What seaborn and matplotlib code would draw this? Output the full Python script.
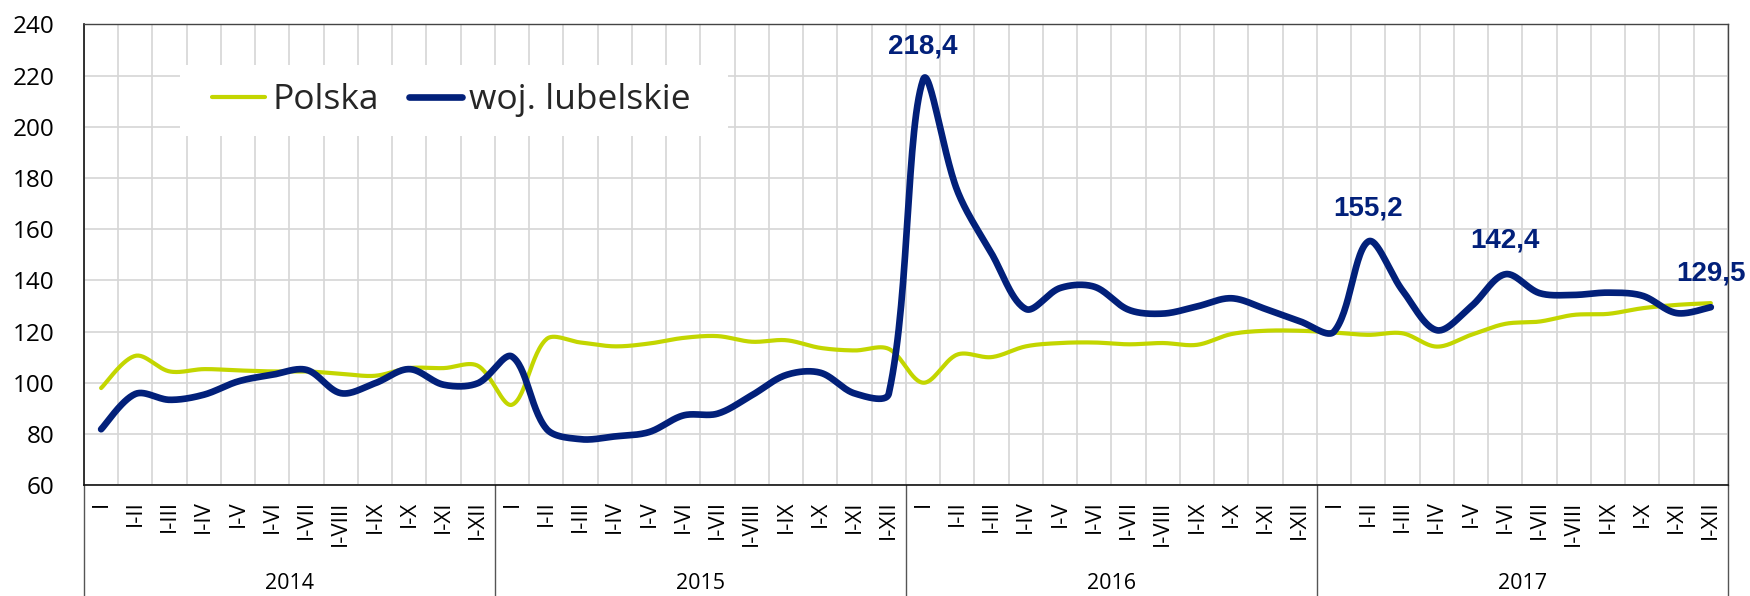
import numpy as np
import matplotlib
matplotlib.use('Agg')
import matplotlib.pyplot as plt
import matplotlib.patches as patches
import seaborn as sns

months = ['I', 'I-II', 'I-III', 'I-IV', 'I-V', 'I-VI', 'I-VII', 'I-VIII',
          'I-IX', 'I-X', 'I-XI', 'I-XII']
years = ['2014', '2015', '2016', '2017']

polska = [97.9, 110.5, 104.4, 105.3, 104.8, 104.4, 104.4, 103.5, 102.7, 105.7, 105.7, 106.6,
          91.4, 117.0, 115.7, 114.2, 115.3, 117.5, 118.2, 116.0, 116.6, 113.6, 112.6, 113.2,
          100.0, 111.0, 110.0, 114.2, 115.5, 115.7, 115.0, 115.5, 114.8, 119.0, 120.3, 120.3,
          119.6, 118.7, 119.3, 114.1, 118.7, 123.0, 123.9, 126.5, 126.9, 129.1, 130.4, 131.1]

lubelskie = [81.8, 95.6, 93.3, 95.3, 100.5, 103.1, 105.0, 95.9, 99.8, 105.3, 99.2, 99.8,
             110.2, 82.0, 77.9, 79.0, 80.7, 87.2, 87.9, 95.1, 103.0, 103.9, 95.8, 95.8,
             218.4, 175.0, 150.5, 128.8, 137.0, 137.5, 128.5, 127.0, 129.8, 133.0, 128.8, 124.0,
             120.0, 155.2, 136.0, 120.5, 129.8, 142.4, 135.0, 134.3, 135.2, 134.0, 127.2, 129.5]

# points of woj. lubelskie that get a value label
labelled = [24, 37, 41, 47]

GREEN = '#c3d600'
NAVY = '#02207a'


def smooth(values, steps=30, yscale=0.0746):
    # excel-like smoothed line: bezier segments, handles weighted by chord length
    # (yscale = pixel height of one y unit / pixel width of one category)
    y = np.asarray(values, dtype=float)
    n = len(y)
    P = np.column_stack([np.arange(n, dtype=float), y])
    S = P * [1.0, yscale]
    d = np.hypot(*np.diff(S, axis=0).T)
    t = np.linspace(0, 1, steps, endpoint=False)[:, None]
    out = []
    for i in range(n - 1):
        i0, i3 = max(i - 1, 0), min(i + 2, n - 1)
        d0 = d[i - 1] if i > 0 else d[i]
        d2 = d[i + 1] if i + 1 < n - 1 else d[i]
        c1 = P[i] + (P[i + 1] - P[i0]) * d[i] / (d0 + d[i]) / 3
        c2 = P[i + 1] - (P[i3] - P[i]) * d[i] / (d[i] + d2) / 3
        b = (1 - t) ** 3 * P[i] + 3 * (1 - t) ** 2 * t * c1 \
            + 3 * (1 - t) * t ** 2 * c2 + t ** 3 * P[i + 1]
        out.append(b)
    out.append(P[-1:])
    out = np.vstack(out)
    return out[:, 0], out[:, 1]


sns.set_theme(style='white')
plt.rcParams['font.family'] = ['Open Sans', 'DejaVu Sans']

fig = plt.figure(figsize=(17.5, 5.96), dpi=100)
ax = fig.add_axes([0.048, 0.1862, 0.9394, 0.7727])

labels = [m for _ in years for m in months]
n = len(labels)

px, py = smooth(polska)
lx, ly = smooth(lubelskie)
sns.lineplot(x=px, y=py, sort=False, color=GREEN, lw=3.0, ax=ax, label='Polska', zorder=3)
sns.lineplot(x=lx, y=ly, sort=False, color=NAVY, lw=4.8, ax=ax, label='woj. lubelskie', zorder=4)

ax.set_xlim(-0.5, n - 0.5)
ax.set_ylim(60, 240)
ax.set_yticks(range(60, 241, 20))
ax.set_xticks(range(n))
ax.set_xticklabels(labels, rotation=90, fontsize=16)
ax.set_xticks(np.arange(-0.5, n, 1), minor=True)
ax.tick_params(axis='x', which='major', length=0, pad=11)
ax.tick_params(axis='x', which='minor', length=49, width=1, color='#333333', direction='out')
ax.tick_params(axis='y', length=0, pad=21, labelsize=17.5)
for t in ax.get_yticklabels() + ax.get_xticklabels():
    t.set_color('black')

ax.yaxis.grid(True, color='#d6d6d6', lw=1.2)
ax.xaxis.grid(True, which='minor', color='#d6d6d6', lw=1.2)
ax.xaxis.grid(False, which='major')
ax.set_axisbelow(True)

for side in ['left', 'bottom']:
    ax.spines[side].set_color('#111111')
    ax.spines[side].set_linewidth(1.2)
for side in ['top', 'right']:
    ax.spines[side].set_color('#444444')
    ax.spines[side].set_linewidth(1.0)

# year separators and labels under the month labels
trans = ax.get_xaxis_transform()
for k in range(len(years) + 1):
    ax.plot([k * 12 - 0.5] * 2, [0, -0.26], transform=trans, color='#555555',
            lw=1.0, clip_on=False)
for k, yr in enumerate(years):
    ax.text(k * 12 + 5.5, -0.213, yr, transform=trans, ha='center', va='center',
            fontsize=15.5, color='black')

# value labels
for i in labelled:
    ax.annotate(f'{lubelskie[i]:.1f}'.replace('.', ','), (i, lubelskie[i]),
                xytext=(0, 24), textcoords='offset points', ha='center', va='center',
                fontsize=20, fontweight='bold', family='Liberation Sans', color=NAVY,
                annotation_clip=False)

# legend on a white box
ax.add_patch(patches.Rectangle((0.0584, 0.758), 0.3333, 0.154, transform=ax.transAxes,
                               facecolor='white', edgecolor='none', zorder=1))
ax.legend(loc='center left', bbox_to_anchor=(0.0779, 0.836), frameon=False, ncol=2,
          fontsize=25.5, handlelength=1.5, handletextpad=0.2, columnspacing=0.85,
          borderpad=0, borderaxespad=0)

ax.set_xlabel('')
ax.set_ylabel('')
fig.savefig('out.png', dpi=100)
